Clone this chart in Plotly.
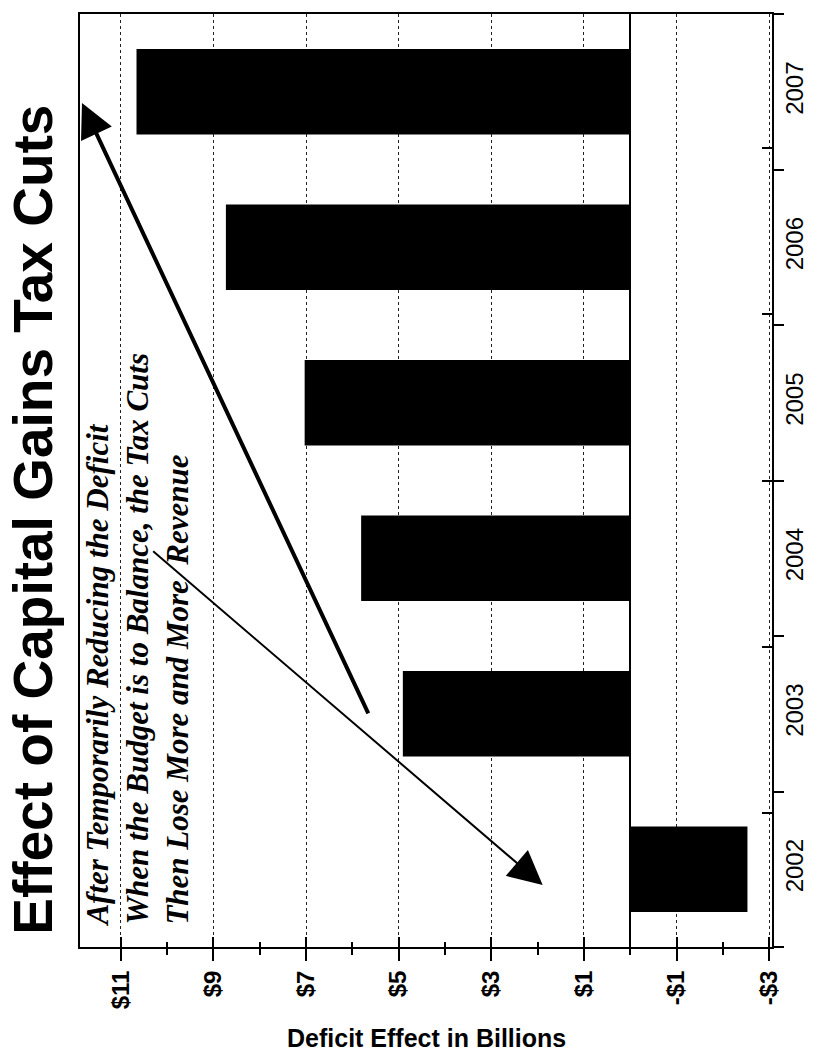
import plotly.graph_objects as go

years = ["2002", "2003", "2004", "2005", "2006", "2007"]
deficit_effect = [-2.53, 4.91, 5.81, 7.03, 8.73, 10.66]
tick_values = [11, 9, 7, 5, 3, 1, -1, -3]
tick_labels = ["$11", "$9", "$7", "$5", "$3", "$1", "-$1", "-$3"]

title_text = "Effect of Capital Gains Tax Cuts"
note_lines = [
    "After Temporarily Reducing the Deficit",
    "When the Budget is to Balance, the Tax Cuts",
    "Then Lose More and More\u00a0 Revenue",
]
x_title = "Deficit Effect in Billions"

W, H = 820, 1055
L, R, T, B = 80, 43, 13, 108
PW, PH = W - L - R, H - T - B


def px(xp):
    return (xp - L) / PW


def py(yp):
    return (H - B - yp) / PH


SANS = "Liberation Sans, Arial, sans-serif"
SERIF = "Liberation Serif, Times New Roman, serif"
XRANGE = [11.88, -3.06]

fig = go.Figure()
fig.add_trace(go.Bar(
    x=deficit_effect, y=years, orientation="h",
    marker=dict(color="black", line=dict(width=0)),
    hoverinfo="skip", showlegend=False,
))
# invisible trace to carry the overlay axes (inside half of the crossing ticks)
fig.add_trace(go.Scatter(
    x=deficit_effect, y=years, xaxis="x2", yaxis="y2", mode="markers",
    marker=dict(opacity=0), hoverinfo="skip", showlegend=False,
))

fig.update_layout(
    width=W, height=H,
    margin=dict(l=L, r=R, t=T, b=B, pad=0),
    paper_bgcolor="white", plot_bgcolor="white",
    bargap=0.45,
    showlegend=False,
    xaxis=dict(
        range=XRANGE, tickvals=tick_values, ticktext=tick_labels,
        tickangle=-90, ticks="outside", ticklen=12, tickwidth=2, tickcolor="black",
        tickfont=dict(family=SANS, size=24, color="black", weight="bold"),
        showgrid=True, gridcolor="#222222", gridwidth=1.2, griddash="dot",
        zeroline=True, zerolinecolor="black", zerolinewidth=2,
        showline=True, linecolor="black", linewidth=2, mirror=True,
        minor=dict(dtick=1, tick0=0, ticks="outside", ticklen=6, tickwidth=1.5,
                   tickcolor="black", showgrid=False),
        fixedrange=True,
    ),
    yaxis=dict(
        type="category", categoryorder="array", categoryarray=years,
        side="right", tickangle=-90, ticks="outside", tickson="boundaries",
        ticklen=10, tickwidth=1.5, tickcolor="black",
        tickfont=dict(family=SANS, size=24, color="black"),
        showgrid=False, showline=True, linecolor="black", linewidth=2, mirror=True,
        fixedrange=True,
    ),
    xaxis2=dict(
        overlaying="x", anchor="y2", range=XRANGE, tickvals=tick_values,
        showticklabels=False, ticks="inside", ticklen=10, tickwidth=2, tickcolor="black",
        showgrid=False, zeroline=False, showline=False,
        minor=dict(dtick=1, tick0=0, ticks="inside", ticklen=5, tickwidth=1.5,
                   tickcolor="black", showgrid=False),
        fixedrange=True,
    ),
    yaxis2=dict(
        overlaying="y", anchor="x2", side="right", type="category",
        categoryorder="array", categoryarray=years,
        showticklabels=False, ticks="inside", tickson="boundaries",
        ticklen=10, tickwidth=1.5, tickcolor="black",
        showgrid=False, zeroline=False, showline=False,
        fixedrange=True,
    ),
)

annotations = [
    dict(text=title_text, textangle=-90,
         xref="paper", yref="paper", x=px(33), y=py(519),
         xanchor="center", yanchor="middle", showarrow=False,
         font=dict(family=SANS, size=55, color="black", weight="bold")),
    dict(text="<br>".join(note_lines), textangle=-90,
         xref="paper", yref="paper", x=px(138), y=py(929),
         xanchor="center", yanchor="bottom", align="left", showarrow=False,
         font=dict(family=SERIF, size=31, color="black", weight="bold", style="italic")),
    dict(text=x_title,
         xref="paper", yref="paper", x=0.5, y=py(1038),
         xanchor="center", yanchor="middle", showarrow=False,
         font=dict(family=SANS, size=25, color="black", weight="bold")),
    # thick arrow pointing up-left
    dict(text="", xref="paper", yref="paper", x=px(82), y=py(102),
         ax=369 - 82, ay=714 - 102, showarrow=True, arrowhead=2,
         arrowsize=1.7, arrowwidth=4, arrowcolor="black", standoff=0),
    # thin arrow pointing down-right
    dict(text="", xref="paper", yref="paper", x=px(546), y=py(885),
         ax=155 - 546, ay=550 - 885, showarrow=True, arrowhead=2,
         arrowsize=3.4, arrowwidth=2, arrowcolor="black", standoff=0),
]
fig.update_layout(annotations=annotations)

fig.write_html("out.html", config={"displayModeBar": False})
